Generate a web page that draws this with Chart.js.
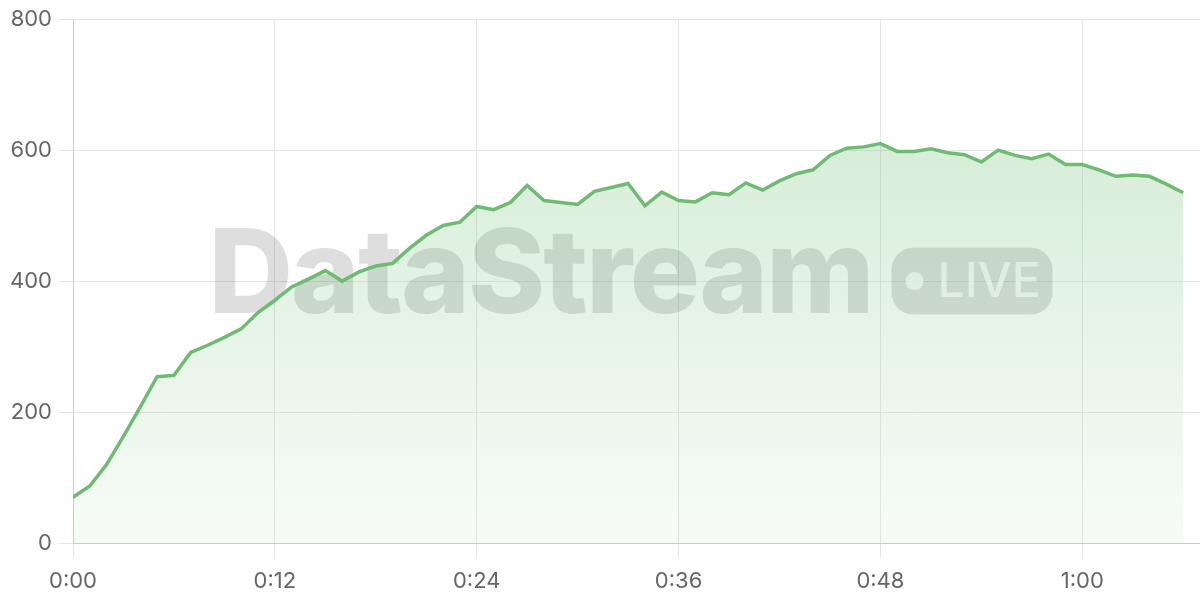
<!DOCTYPE html>
<html>
<head>
<meta charset="utf-8">
<script src="https://cdn.jsdelivr.net/npm/chart.js@4/dist/chart.umd.min.js"></script>
<style>
html,body{margin:0;padding:0;background:#ffffff;}
#wrap{width:1200px;height:600px;position:relative;}
</style>
</head>
<body>
<div id="wrap"><canvas id="c"></canvas></div>
<script>
// elapsed seconds (x) for each sample
const seconds = [0,1,2,3,4,5,6,7,8,9,10,11,12,13,14,15,16,17,18,19,20,21,22,23,24,25,26,27,28,29,30,31,32,33,34,35,36,37,38,39,40,41,42,43,44,45,46,47,48,49,50,51,52,53,54,55,56,57,58,59,60,61,62,63,64,65,66];
// stream values
const values = [70,87,120,163,208,254,256,291,302,314,327,352,371,391,403,416,400,414,423,427,450,470,485,490,514,509,520,546,523,520,517,537,543,549,515,536,523,521,535,532,550,539,553,564,570,592,603,605,610,598,598,602,596,593,582,600,592,587,594,578,578,570,560,562,560,548,535];
// x-axis ticks (seconds) and their labels
const xTickValues = [0,12,24,36,48,60];
const xTickLabels = ['0:00','0:12','0:24','0:36','0:48','1:00'];
// y-axis ticks
const yTickValues = [0,200,400,600,800];
const yTickLabels = ['0','200','400','600','800'];
const watermarkText = 'DataStream';
const badgeText = 'LIVE';

const points = seconds.map((s, i) => ({x: s, y: values[i]}));

const tickFont = {family: 'Inter', size: 22, weight: '400'};
const tickColor = '#666666';
const gridColor = '#e6e6e6';
const borderColor = '#cccccc';

const watermark = {
  id: 'watermark',
  beforeDatasetsDraw(chart) {
    const {ctx, chartArea: a} = chart;
    const cx = (a.left + a.right) / 2 - 6;
    const cy = (a.top + a.bottom) / 2;
    ctx.save();
    ctx.font = '800 117px Inter';
    ctx.letterSpacing = '-2px';
    const w1 = ctx.measureText(watermarkText).width;
    const gap = 19, bw = 161, bh = 67, r = 22;
    const total = w1 + gap + bw;
    const x0 = cx - total / 2;
    ctx.fillStyle = 'rgba(0,0,0,0.13)';
    ctx.textBaseline = 'alphabetic';
    ctx.textAlign = 'left';
    ctx.fillText(watermarkText, x0, cy + 32);
    ctx.letterSpacing = '0px';
    const bx = x0 + w1 + gap, by = cy - bh / 2;
    ctx.beginPath();
    ctx.roundRect(bx, by, bw, bh, r);
    ctx.fill();
    ctx.fillStyle = 'rgba(255,255,255,0.85)';
    ctx.beginPath();
    ctx.arc(bx + 23, cy, 9, 0, Math.PI * 2);
    ctx.fill();
    ctx.font = '500 48px Inter';
    ctx.textBaseline = 'middle';
    ctx.fillText(badgeText, bx + 46, cy + 1);
    ctx.restore();
  }
};

new Chart(document.getElementById('c'), {
  type: 'line',
  data: {
    datasets: [{
      data: points,
      borderColor: '#6fbb73',
      borderWidth: 3.5,
      pointRadius: 0,
      tension: 0,
      fill: 'origin',
      backgroundColor: (context) => {
        const chart = context.chart;
        const area = chart.chartArea;
        if (!area) return 'rgba(102,187,106,0.15)';
        const g = chart.ctx.createLinearGradient(0, area.top, 0, area.bottom);
        g.addColorStop(0, 'rgba(102,187,106,0.32)');
        g.addColorStop(1, 'rgba(102,187,106,0.05)');
        return g;
      }
    }]
  },
  options: {
    responsive: true,
    maintainAspectRatio: false,
    animation: false,
    layout: {padding: {top: 19, right: 0, bottom: 0, left: 0}},
    plugins: {legend: {display: false}, tooltip: {enabled: false}},
    scales: {
      x: {
        type: 'linear',
        min: 0,
        max: 67,
        afterBuildTicks: (scale) => { scale.ticks = xTickValues.map(v => ({value: v})); },
        afterFit: (scale) => { scale.height = 57; },
        grid: {color: gridColor, tickLength: 15},
        border: {color: borderColor},
        ticks: {
          font: tickFont, color: tickColor, padding: 10, maxRotation: 0, autoSkip: false,
          callback: (v) => { const i = xTickValues.indexOf(v); return i >= 0 ? xTickLabels[i] : ''; }
        }
      },
      y: {
        min: 0,
        max: 800,
        afterBuildTicks: (scale) => { scale.ticks = yTickValues.map(v => ({value: v})); },
        afterFit: (scale) => { scale.width = 73; },
        grid: {color: gridColor, tickLength: 15},
        border: {color: borderColor},
        ticks: {
          font: tickFont, color: tickColor, padding: 6,
          callback: (v) => { const i = yTickValues.indexOf(v); return i >= 0 ? yTickLabels[i] : ''; }
        }
      }
    }
  },
  plugins: [watermark]
});
</script>
</body>
</html>
